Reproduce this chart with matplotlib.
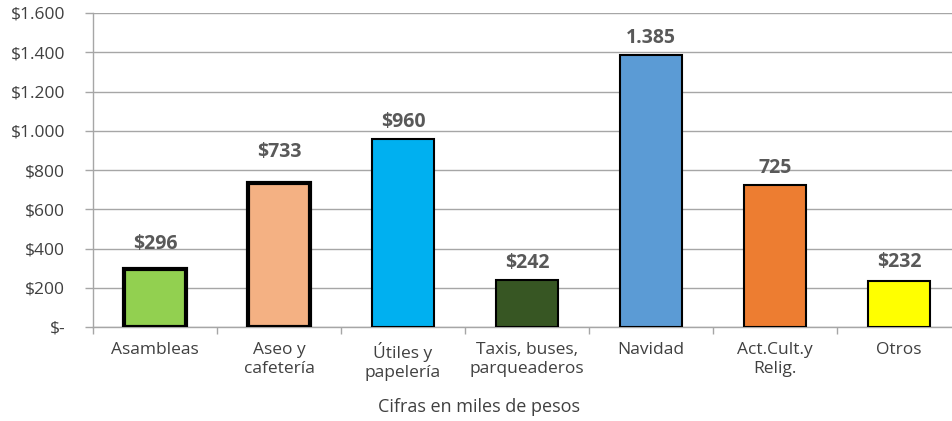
import numpy as np
import matplotlib
matplotlib.use("Agg")
import matplotlib.pyplot as plt
from matplotlib.ticker import FixedLocator

# ==============================
# DATA
# ==============================
categories = ["Asambleas", "Aseo y\ncafetería", "Útiles y\npapelería",
              "Taxis, buses,\nparqueaderos", "Navidad", "Act.Cult.y\nRelig.", "Otros"]
values = [296, 733, 960, 242, 1385, 725, 232]
value_labels = ["$296", "$733", "$960", "$242", "1.385", "725", "$232"]
colors = ["#92D050", "#F4B183", "#00B0F0", "#375623", "#5B9BD5", "#ED7D31", "#FFFF00"]
edge_widths = [3, 3, 1.5, 1.5, 1.5, 1.5, 1.5]
label_gap = [25, 31, 17, 17, 17, 17, 19]   # px above bar top

y_ticks = [0, 200, 400, 600, 800, 1000, 1200, 1400, 1600]
y_ticklabels = ["$-", "$200", "$400", "$600", "$800", "$1.000", "$1.200", "$1.400", "$1.600"]

plt.rcParams["font.family"] = ["Open Sans", "DejaVu Sans"]
text_color = "#404040"
grid_color = "#A6A6A6"

# ==============================
# PLOT
# ==============================
fig = plt.figure(figsize=(9.53, 4.21), dpi=100)
ax = fig.add_axes([93 / 953, 1 - 327 / 421, 868 / 953, 314 / 421])

x = np.arange(len(categories))
ax.bar(x, values, width=0.5, color=colors, edgecolor="black",
       linewidth=edge_widths, zorder=3)

for xi, v, lab, gap in zip(x, values, value_labels, label_gap):
    ax.annotate(lab, (xi, v), xytext=(0, gap), textcoords="offset pixels",
                ha="center", va="center", fontsize=14, fontweight="bold",
                color="#595959")

ax.set_xlim(-0.5, len(categories) - 0.5)
ax.set_ylim(0, 1600)
ax.set_yticks(y_ticks)
ax.set_yticklabels(y_ticklabels)
ax.set_xticks(x)
ax.set_xticklabels(categories, linespacing=1.2)
ax.xaxis.set_minor_locator(FixedLocator(np.arange(-0.5, len(categories), 1)))

ax.tick_params(axis="x", which="major", length=0, pad=11, labelsize=12.5,
               labelcolor=text_color)
ax.tick_params(axis="x", which="minor", length=5, width=1, color=grid_color)
ax.tick_params(axis="y", length=6, width=1, color=grid_color, pad=14,
               labelsize=12.5, labelcolor=text_color)

ax.grid(axis="y", color=grid_color, linewidth=1, zorder=0)
for s in ["top", "right"]:
    ax.spines[s].set_visible(False)
for s in ["left", "bottom"]:
    ax.spines[s].set_color(grid_color)
    ax.spines[s].set_linewidth(1)

fig.text(479 / 953, 1 - 407 / 421, "Cifras en miles de pesos", ha="center",
         va="center", fontsize=13, color=text_color)

fig.savefig("out.png", dpi=100)
